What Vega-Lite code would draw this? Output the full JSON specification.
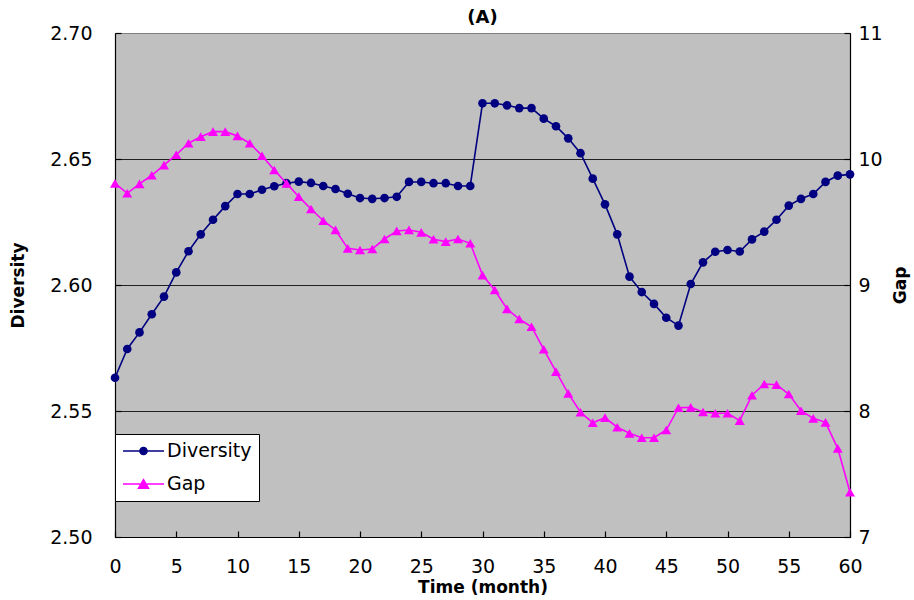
{
  "$schema": "https://vega.github.io/schema/vega-lite/v6.json",
  "autosize": {"type": "none"},
  "width": 735,
  "height": 504,
  "padding": {"left": 115, "top": 33, "right": 64, "bottom": 63},
  "background": "white",
  "title": {"text": "(A)", "font": "DejaVu Sans", "fontSize": 18, "fontWeight": "bold", "color": "black", "offset": -3},
  "data": {"values": [
    {"t": 0, "Diversity": 2.5632, "Gap": 9.807},
    {"t": 1, "Diversity": 2.5746, "Gap": 9.728},
    {"t": 2, "Diversity": 2.5812, "Gap": 9.802},
    {"t": 3, "Diversity": 2.5884, "Gap": 9.871},
    {"t": 4, "Diversity": 2.5954, "Gap": 9.952},
    {"t": 5, "Diversity": 2.6050, "Gap": 10.034},
    {"t": 6, "Diversity": 2.6134, "Gap": 10.125},
    {"t": 7, "Diversity": 2.6201, "Gap": 10.177},
    {"t": 8, "Diversity": 2.6259, "Gap": 10.217},
    {"t": 9, "Diversity": 2.6313, "Gap": 10.217},
    {"t": 10, "Diversity": 2.6361, "Gap": 10.183},
    {"t": 11, "Diversity": 2.6361, "Gap": 10.125},
    {"t": 12, "Diversity": 2.6378, "Gap": 10.026},
    {"t": 13, "Diversity": 2.6392, "Gap": 9.913},
    {"t": 14, "Diversity": 2.6404, "Gap": 9.807},
    {"t": 15, "Diversity": 2.6410, "Gap": 9.701},
    {"t": 16, "Diversity": 2.6405, "Gap": 9.603},
    {"t": 17, "Diversity": 2.6393, "Gap": 9.510},
    {"t": 18, "Diversity": 2.6381, "Gap": 9.437},
    {"t": 19, "Diversity": 2.6362, "Gap": 9.291},
    {"t": 20, "Diversity": 2.6345, "Gap": 9.278},
    {"t": 21, "Diversity": 2.6342, "Gap": 9.286},
    {"t": 22, "Diversity": 2.6345, "Gap": 9.365},
    {"t": 23, "Diversity": 2.6350, "Gap": 9.429},
    {"t": 24, "Diversity": 2.6409, "Gap": 9.437},
    {"t": 25, "Diversity": 2.6409, "Gap": 9.418},
    {"t": 26, "Diversity": 2.6404, "Gap": 9.363},
    {"t": 27, "Diversity": 2.6404, "Gap": 9.344},
    {"t": 28, "Diversity": 2.6393, "Gap": 9.365},
    {"t": 29, "Diversity": 2.6393, "Gap": 9.331},
    {"t": 30, "Diversity": 2.6721, "Gap": 9.079},
    {"t": 31, "Diversity": 2.6721, "Gap": 8.960},
    {"t": 32, "Diversity": 2.6713, "Gap": 8.810},
    {"t": 33, "Diversity": 2.6702, "Gap": 8.730},
    {"t": 34, "Diversity": 2.6702, "Gap": 8.669},
    {"t": 35, "Diversity": 2.6660, "Gap": 8.490},
    {"t": 36, "Diversity": 2.6630, "Gap": 8.312},
    {"t": 37, "Diversity": 2.6582, "Gap": 8.140},
    {"t": 38, "Diversity": 2.6523, "Gap": 7.990},
    {"t": 39, "Diversity": 2.6422, "Gap": 7.907},
    {"t": 40, "Diversity": 2.6320, "Gap": 7.947},
    {"t": 41, "Diversity": 2.6201, "Gap": 7.871},
    {"t": 42, "Diversity": 2.6033, "Gap": 7.823},
    {"t": 43, "Diversity": 2.5972, "Gap": 7.788},
    {"t": 44, "Diversity": 2.5925, "Gap": 7.788},
    {"t": 45, "Diversity": 2.5870, "Gap": 7.849},
    {"t": 46, "Diversity": 2.5839, "Gap": 8.026},
    {"t": 47, "Diversity": 2.6004, "Gap": 8.029},
    {"t": 48, "Diversity": 2.6090, "Gap": 7.992},
    {"t": 49, "Diversity": 2.6132, "Gap": 7.982},
    {"t": 50, "Diversity": 2.6139, "Gap": 7.982},
    {"t": 51, "Diversity": 2.6133, "Gap": 7.923},
    {"t": 52, "Diversity": 2.6181, "Gap": 8.125},
    {"t": 53, "Diversity": 2.6212, "Gap": 8.214},
    {"t": 54, "Diversity": 2.6259, "Gap": 8.209},
    {"t": 55, "Diversity": 2.6315, "Gap": 8.135},
    {"t": 56, "Diversity": 2.6342, "Gap": 8.002},
    {"t": 57, "Diversity": 2.6361, "Gap": 7.942},
    {"t": 58, "Diversity": 2.6409, "Gap": 7.910},
    {"t": 59, "Diversity": 2.6434, "Gap": 7.704},
    {"t": 60, "Diversity": 2.6439, "Gap": 7.355}
  ]},
  "encoding": {
    "x": {
      "field": "t", "type": "quantitative",
      "scale": {"domain": [0, 60], "nice": false, "zero": false},
      "axis": {
        "values": [0, 5, 10, 15, 20, 25, 30, 35, 40, 45, 50, 55, 60],
        "format": "d", "grid": false,
        "domainColor": "black", "tickColor": "black", "tickSize": -6, "labelPadding": 26,
        "labelFlush": false,
        "title": "Time (month)", "titleX": 367.5, "titleY": 50, "titleBaseline": "middle", "titleAlign": "center"
      }
    }
  },
  "layer": [
    {
      "encoding": {
        "y": {
          "field": "Diversity", "type": "quantitative",
          "scale": {"domain": [2.5, 2.7], "nice": false, "zero": false},
          "axis": {
            "orient": "left",
            "values": [2.5, 2.55, 2.6, 2.65, 2.7],
            "format": ".2f",
            "grid": true,
            "gridColor": {"condition": {"test": "datum.value > 2.699", "value": "#808080"}, "value": "#202020"},
            "gridWidth": 1.2,
            "domainColor": "black", "tickColor": "black", "tickSize": -6, "labelPadding": 29,
            "labelFlush": false,
            "title": "Diversity", "titleX": -97, "titleY": 252, "titleAngle": 270, "titleBaseline": "middle", "titleAlign": "center"
          }
        }
      },
      "layer": [
        {
          "mark": {"type": "line", "strokeWidth": 1.6},
          "encoding": {
            "color": {
              "datum": "Diversity",
              "scale": {"domain": ["Diversity", "Gap"], "range": ["#000080", "#FF00FF"]},
              "legend": {
                "orient": "none", "legendX": 0, "legendY": 401,
                "title": null,
                "fillColor": "white", "strokeColor": "black",
                "padding": 7,
                "symbolSize": 324,
                "symbolOffset": 11.5,
                "labelOffset": 13.5,
                "rowPadding": 13,
                "labelFont": "DejaVu Sans", "labelFontSize": 19, "labelColor": "black",
                "symbolStrokeWidth": 1.5,
                "symbolType": "M-2.28,0L2.28,0",
                "encode": {
                  "symbols": {
                    "update": {
                      "shape": {"signal": "datum.value == 'Diversity' ? 'M-2.28,0L2.28,0M-0.4,0A0.4,0.4 0 1,0 0.4,0A0.4,0.4 0 1,0 -0.4,0Z' : 'M-2.28,0L2.28,0M0,-0.48L0.56,0.48L-0.56,0.48Z'"},
                      "fill": {"signal": "datum.value == 'Diversity' ? '#000080' : '#FF00FF'"},
                      "stroke": {"signal": "datum.value == 'Diversity' ? '#000080' : '#FF00FF'"},
                      "strokeWidth": {"value": 1.5},
                      "opacity": {"value": 1}
                    }
                  }
                }
              }
            }
          }
        },
        {
          "mark": {"type": "point", "shape": "circle", "filled": true, "size": 75, "color": "#000080", "opacity": 1}
        }
      ]
    },
    {
      "encoding": {
        "y": {
          "field": "Gap", "type": "quantitative",
          "scale": {"domain": [7, 11], "nice": false, "zero": false},
          "axis": {
            "orient": "right",
            "values": [7, 8, 9, 10, 11],
            "format": "d",
            "grid": false,
            "domainColor": "black", "tickColor": "black", "tickSize": -6, "labelPadding": 14,
            "labelFlush": false,
            "title": "Gap", "titleX": 50, "titleY": 252, "titleAngle": 270, "titleBaseline": "middle", "titleAlign": "center"
          }
        }
      },
      "layer": [
        {
          "mark": {"type": "line", "strokeWidth": 1.6},
          "encoding": {"color": {"datum": "Gap"}}
        },
        {
          "mark": {"type": "point", "shape": "triangle-up", "filled": true, "size": 100, "color": "#FF00FF", "opacity": 1}
        }
      ]
    }
  ],
  "resolve": {"scale": {"y": "independent"}},
  "config": {
    "font": "DejaVu Sans",
    "view": {"fill": "#C0C0C0", "stroke": "#808080", "strokeWidth": 1},
    "axis": {
      "labelFont": "DejaVu Sans", "labelFontSize": 19, "labelColor": "black",
      "titleFont": "DejaVu Sans", "titleFontSize": 17, "titleFontWeight": "bold", "titleColor": "black",
      "domainWidth": 1.2, "tickWidth": 1.2
    }
  }
}
